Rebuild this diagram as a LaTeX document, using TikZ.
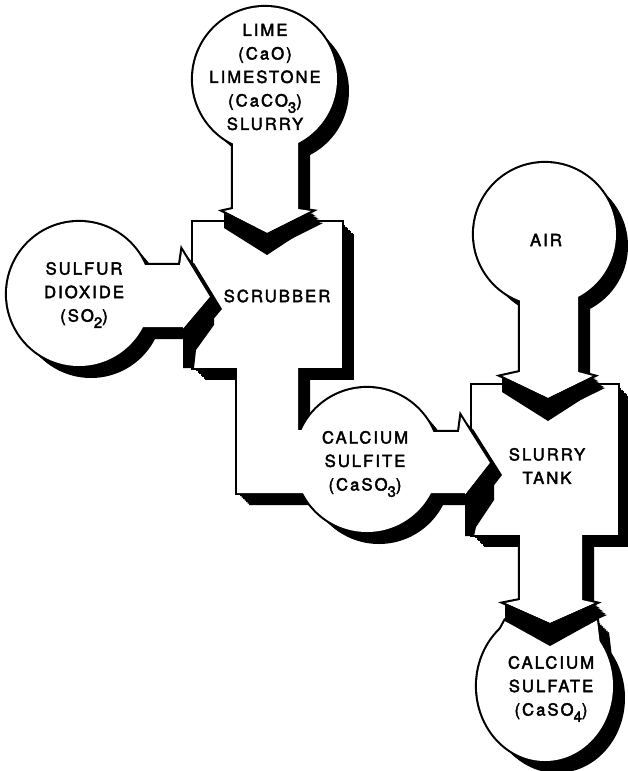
\documentclass[tikz,border=0pt]{standalone}
\usepackage{fontspec}
\setmainfont{TeX Gyre Heros}
\newfontfamily\lab{TeX Gyre Heros}[LetterSpace=12,FakeBold=2.5]
\newcommand{\sbs}[1]{\raisebox{-0.38em}{\fontsize{15}{15}\selectfont #1}}
\newcommand{\shadowof}[1]{\foreach \k in {1,...,8}{\fill[black,shift={(1.5*\k,1.5*\k)}] #1;}}
\newcommand{\strokeof}[1]{\draw[black,line width=4.2pt] #1;}
\newcommand{\whiteof}[1]{\fill[white] #1;}
\begin{document}
\begin{tikzpicture}[x=1pt,y=-1pt,
  lbl/.style={align=center,font=\lab\fontsize{16.7}{23.5}\selectfont,inner sep=0pt},
  band/.style={fill=black}]
\useasboundingbox (0,0) rectangle (628,771);
\fill[white] (0,0) rectangle (628,771);
% ---- calcium sulfate piece
\def\sfC{(545,686) ellipse [x radius=68pt, y radius=75pt]}
\def\sfP{(505,621) -- (550,646) -- (597,620) -- (600,645) -- (492,645) -- cycle}
\shadowof{\sfC}\shadowof{\sfP}
\strokeof{\sfC}\strokeof{\sfP}
\whiteof{\sfC}\whiteof{\sfP}
% ---- slurry tank piece
\def\tkB{(472,385) rectangle (618,535)}
\def\tkL{(520,530) -- (520,600) -- (505,603) -- (550,623) -- (595,603) -- (582,600) -- (582,530) -- cycle}
\shadowof{\tkB}\shadowof{\tkL}
\strokeof{\tkB}\strokeof{\tkL}
\whiteof{\tkB}\whiteof{\tkL}
% ---- scrubber piece (box, leg, calcium sulfite, arrow)
\def\scB{(193,222) rectangle (342,368)}
\def\scL{(237,360) -- (298,360) -- (298,430) -- (330,430) -- (330,493) -- (237,493) -- cycle}
\def\scC{(367,460) circle [radius=72pt]}
\def\scA{(420,432) -- (459,432) -- (461,417) -- (490,463) -- (465,495) -- (465,493) -- (420,493) -- cycle}
\shadowof{\scB}\shadowof{\scL}\shadowof{\scC}\shadowof{\scA}
\strokeof{\scB}\strokeof{\scL}\strokeof{\scC}\strokeof{\scA}
\whiteof{\scB}\whiteof{\scL}\whiteof{\scC}\whiteof{\scA}
% ---- sulfur dioxide piece
\def\soC{(79,294) circle [radius=72pt]}
\def\soA{(130,265) -- (180,265) -- (182,251) -- (210,297) -- (183,329) -- (183,327) -- (130,327) -- cycle}
\shadowof{\soC}\shadowof{\soA}
\strokeof{\soC}\strokeof{\soA}
\whiteof{\soC}\whiteof{\soA}
% ---- lime piece
\def\liC{(265,79) circle [radius=72pt]}
\def\liA{(233,130) -- (233,209) -- (224,211) -- (267,233) -- (311,211) -- (298,209) -- (298,130) -- cycle}
\shadowof{\liC}\shadowof{\liA}
\strokeof{\liC}\strokeof{\liA}
\whiteof{\liC}\whiteof{\liA}
% ---- air piece
\def\aiC{(545,234) circle [radius=71pt]}
\def\aiA{(520,280) -- (520,372) -- (502,376) -- (548,398) -- (593,376) -- (578,372) -- (578,280) -- cycle}
\shadowof{\aiC}\shadowof{\aiA}
\strokeof{\aiC}\strokeof{\aiA}
\whiteof{\aiC}\whiteof{\aiA}
% ---- junction bands
\fill[band] (224,211) -- (267,233) -- (311,211) -- (311,226) -- (267,255) -- (224,228) -- cycle;
\fill[band] (502,376) -- (548,398) -- (593,376) -- (593,392) -- (548,421) -- (502,392) -- cycle;
\fill[band] (505,603) -- (550,623) -- (595,603) -- (597,620) -- (550,646) -- (505,621) -- cycle;
\fill[band] (210,297) -- (214,301) -- (214,325) -- (196,350) -- (194,368) -- (183,368) -- (183,329) -- cycle;
\fill[band] (490,463) -- (494,467) -- (494,500) -- (476,527) -- (474,536) -- (465,536) -- (465,495) -- cycle;
% ---- labels
\node[lbl] (t1) at (265,77) {LIME\\(CaO)\\LIMESTONE\\(CaCO\sbs{3})\\SLURRY};
\node[lbl] (t2) at (84,295) {SULFUR\\DIOXIDE\\(SO\sbs{2})};
\node[lbl] (t3) at (277,296) {SCRUBBER};
\node[lbl] (t4) at (365,464) {CALCIUM\\SULFITE\\(CaSO\sbs{3})};
\node[lbl] (t5) at (546,240) {AIR};
\node[lbl] (t6) at (547,466) {SLURRY\\TANK};
\node[lbl] (t7) at (551,689) {CALCIUM\\SULFATE\\(CaSO\sbs{4})};
\end{tikzpicture}
\end{document}
